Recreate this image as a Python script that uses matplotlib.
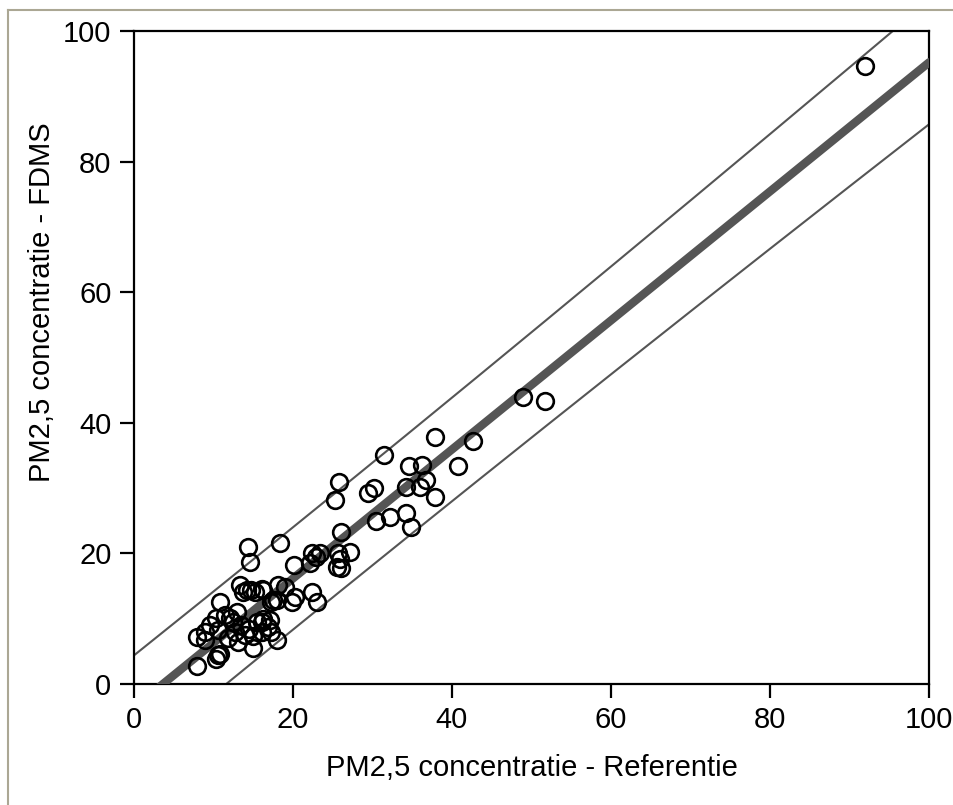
import numpy as np
import matplotlib
matplotlib.use("Agg")
import matplotlib.pyplot as plt
from matplotlib.lines import Line2D

referentie = [
    91.9, 48.9, 51.7, 42.7, 37.9, 40.8, 36.2, 34.6, 31.5, 25.8,
    25.3, 29.4, 30.2, 34.2, 36.0, 36.7, 37.9, 30.5, 32.2, 34.2,
    34.9, 26.1, 27.2, 25.7, 25.5, 26.1, 23.4, 22.4, 22.2, 20.1,
    18.4, 14.4, 14.6, 20.3, 22.4, 23.0, 19.9, 18.2, 17.5, 18.0,
    15.5, 16.9, 22.9, 25.9, 14.2, 15.2, 16.1, 16.2,
    10.8, 7.9, 9.6, 10.4, 11.5, 12.1, 10.6, 12.7, 13.1, 14.0,
    10.6, 10.4, 7.9, 13.4, 13.8, 14.8, 16.3, 17.3, 19.0, 16.1,
    17.1, 16.1, 17.3, 18.0, 15.0, 9.0, 9.0, 13.5, 14.5, 12.5,
    13.0, 11.8, 15.0, 10.8,
]
fdms = [
    94.7, 44.0, 43.3, 37.2, 37.9, 33.4, 33.5, 33.4, 35.1, 31.0,
    28.2, 29.3, 30.1, 30.2, 30.2, 31.3, 28.6, 24.9, 25.6, 26.2,
    24.1, 23.3, 20.3, 20.0, 18.0, 17.7, 20.0, 20.0, 18.5, 18.2,
    21.6, 21.0, 18.7, 13.4, 14.1, 12.6, 12.6, 15.2, 12.9, 12.9,
    9.5, 8.8, 19.5, 19.2, 14.4, 14.1, 14.6, 10.0,
    12.6, 7.2, 9.0, 10.1, 10.6, 10.1, 8.3, 8.0, 6.5, 7.5,
    4.4, 3.9, 2.7, 15.2, 14.1, 14.4, 14.4, 12.6, 14.9, 9.5,
    9.8, 8.0, 8.0, 6.7, 5.5, 8.0, 6.8, 9.0, 8.5, 9.5,
    11.0, 7.0, 7.3, 4.6,
]

x = np.array(referentie)
y = np.array(fdms)

# Lineaire regressie met 95% voorspellingsinterval
slope, intercept = np.polyfit(x, y, 1)
n = len(x)
res = y - (slope * x + intercept)
s = np.sqrt(np.sum(res ** 2) / (n - 2))
sxx = np.sum((x - x.mean()) ** 2)
t_val = 1.99

xs = np.linspace(0, 100, 400)
fit = slope * xs + intercept
half = t_val * s * np.sqrt(1 + 1 / n + (xs - x.mean()) ** 2 / sxx)

plt.rcParams['font.family'] = ['Liberation Sans', 'DejaVu Sans']

fig = plt.figure(figsize=(9.54, 8.05), dpi=100)
ax = fig.add_axes([0.1401, 0.1503, 0.9741 - 0.1401, 0.9611 - 0.1503])

ax.plot(xs, fit + half, color='#555555', lw=1.5, zorder=2)
ax.plot(xs, fit - half, color='#555555', lw=1.5, zorder=2)
ax.plot(xs, fit, color='#555555', lw=6, solid_capstyle='round', zorder=3)
ax.plot(x, y, 'o', mfc='none', mec='black', ms=12, mew=1.9, zorder=4)

ax.set_xlim(0, 100)
ax.set_ylim(0, 100)
ax.set_xticks(range(0, 101, 20))
ax.set_yticks(range(0, 101, 20))
for sp in ax.spines.values():
    sp.set_linewidth(1.6)
ax.tick_params(direction='out', length=10, width=1.6, labelsize=21, pad=6)

ax.set_xlabel('PM2,5 concentratie - Referentie', fontsize=21, labelpad=14)
ax.set_ylabel('PM2,5 concentratie - FDMS', fontsize=21)
ax.yaxis.set_label_coords(-0.097, 0.585)

# Kader rond de figuur (boven en links)
kader = '#aba794'
fig.add_artist(Line2D([8.5 / 954, 1], [1 - 10 / 805, 1 - 10 / 805],
                      color=kader, lw=1.5, transform=fig.transFigure))
fig.add_artist(Line2D([8.5 / 954, 8.5 / 954], [0, 1 - 10 / 805],
                      color=kader, lw=1.5, transform=fig.transFigure))

fig.savefig('out.png', dpi=100)
